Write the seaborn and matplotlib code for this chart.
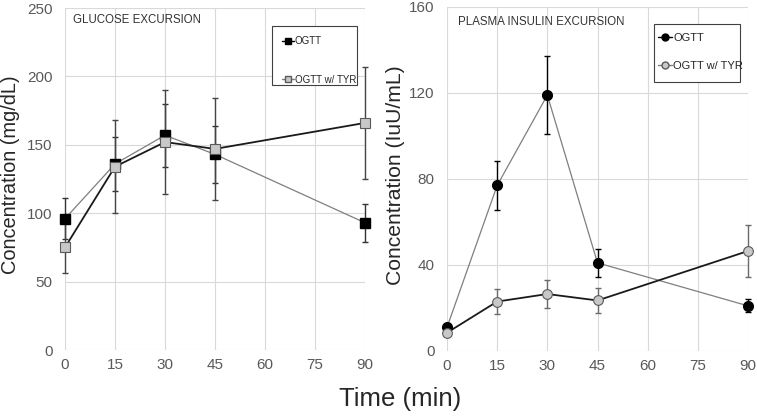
import numpy as np
import pandas as pd
import matplotlib
matplotlib.use("Agg")
import matplotlib.pyplot as plt
import seaborn as sns
from matplotlib.lines import Line2D
from matplotlib.patches import Rectangle

# ---- data ----------------------------------------------------------------- #
time_min = [0, 15, 30, 45, 90]

glu_ogtt = [96, 136, 157, 143, 93]
glu_ogtt_err = [15, 20, 23, 21, 14]
glu_tyr = [75, 134, 152, 147, 166]
glu_tyr_err = [19, 34, 38, 37, 41]

ins_ogtt = [11, 77, 119, 41, 21]
ins_ogtt_err = [1, 11.5, 18, 6.5, 3]
ins_tyr = [8.5, 23, 26.5, 23.5, 46.5]
ins_tyr_err = [1.5, 6, 6.5, 6, 12]

sns.set_style("white")
plt.rcParams["font.family"] = ["Liberation Sans", "DejaVu Sans"]

DARK = "#1a1a1a"
THIN = "#7f7f7f"
FILL_GRAY = "#c8c8c8"
EDGE_GRAY = "#5a5a5a"
TICK_C = "#595959"
GRID_C = "#d9d9d9"


def _style(ax, ymax, yticks):
    ax.set_xlim(0, 90)
    ax.set_ylim(0, ymax)
    ax.set_xticks([0, 15, 30, 45, 60, 75, 90])
    ax.set_yticks(yticks)
    ax.grid(True, color=GRID_C, lw=0.8)
    for s in ax.spines.values():
        s.set_visible(False)
    ax.tick_params(axis="both", length=0, labelsize=11, colors=TICK_C)
    ax.tick_params(axis="y", pad=9)
    ax.tick_params(axis="x", pad=6)
    ax.set_xlabel("")


def _panel(ax, y1, e1, y2, e2, marker, ms, err1_c, err2_c):
    df = pd.DataFrame({"t": time_min, "a": y1, "b": y2})
    # Excel quirk: black markers joined by a thin grey line, grey markers by a dark line
    sns.lineplot(data=df, x="t", y="a", ax=ax, color=THIN, lw=0.9, zorder=2)
    sns.lineplot(data=df, x="t", y="b", ax=ax, color=DARK, lw=1.3, zorder=2)
    ax.errorbar(time_min, y1, yerr=e1, fmt="none", ecolor=err1_c, elinewidth=1.0,
                capsize=2, capthick=1.0, zorder=3, clip_on=False)
    ax.errorbar(time_min, y2, yerr=e2, fmt="none", ecolor=err2_c, elinewidth=1.0,
                capsize=2, capthick=1.0, zorder=3, clip_on=False)
    ax.plot(time_min, y1, ls="none", marker=marker, ms=ms, mfc="black", mec="black",
            zorder=4, clip_on=False)
    ax.plot(time_min, y2, ls="none", marker=marker, ms=ms, mfc=FILL_GRAY, mec=EDGE_GRAY,
            mew=0.8, zorder=5, clip_on=False)


def _legend(ax, marker, fs, spacing, box, anchor):
    x0, y0, x1, y1 = box
    ax.add_patch(Rectangle((x0, y0), x1 - x0, y1 - y0, transform=ax.transAxes,
                           fill=True, facecolor="white", edgecolor="#404040",
                           lw=0.8, zorder=6, clip_on=False))
    handles = [
        Line2D([], [], color="black", lw=1.0, marker=marker, ms=5, mfc="black", mec="black"),
        Line2D([], [], color=THIN, lw=1.0, marker=marker, ms=5, mfc=FILL_GRAY, mec=EDGE_GRAY),
    ]
    leg = ax.legend(handles, ["OGTT", "OGTT w/ TYR"], loc="upper left",
                    bbox_to_anchor=anchor, borderaxespad=0, borderpad=0, fontsize=fs,
                    labelspacing=spacing, handlelength=1.25, handletextpad=0.1,
                    frameon=False)
    leg.set_zorder(7)


fig = plt.figure(figsize=(7.57, 4.16), dpi=100)
ax1 = fig.add_axes([65 / 757, 66 / 416, 300 / 757, 342 / 416])
ax2 = fig.add_axes([447 / 757, 65 / 416, 301 / 757, 344 / 416])

_panel(ax1, glu_ogtt, glu_ogtt_err, glu_tyr, glu_tyr_err, "s", 6.5, "#333333", "#444444")
_style(ax1, 250, [0, 50, 100, 150, 200, 250])
ax1.set_ylabel("Concentration (mg/dL)", fontsize=14.4)
ax1.yaxis.set_label_coords(-0.15, 0.512)
ax1.text(0.027, 0.965, "GLUCOSE EXCURSION", transform=ax1.transAxes,
         fontsize=8.3, color="#333333", va="center")
_legend(ax1, "s", 7, 2.9, (0.69, 0.775, 0.973, 0.947), (0.722, 0.917))

_panel(ax2, ins_ogtt, ins_ogtt_err, ins_tyr, ins_tyr_err, "o", 7, "black", "#6a6a6a")
_style(ax2, 160, [0, 40, 80, 120, 160])
ax2.set_ylabel("Concentration (IuU/mL)", fontsize=15.2)
ax2.yaxis.set_label_coords(-0.14, 0.512)
ax2.text(0.037, 0.955, "PLASMA INSULIN EXCURSION", transform=ax2.transAxes,
         fontsize=8.3, color="#333333", va="center")
_legend(ax2, "o", 8, 1.6, (0.688, 0.782, 0.973, 0.951), (0.702, 0.925))

fig.text(0.528, 0.041, "Time (min)", ha="center", va="center", fontsize=18.5)

fig.savefig("out.png", dpi=100)
